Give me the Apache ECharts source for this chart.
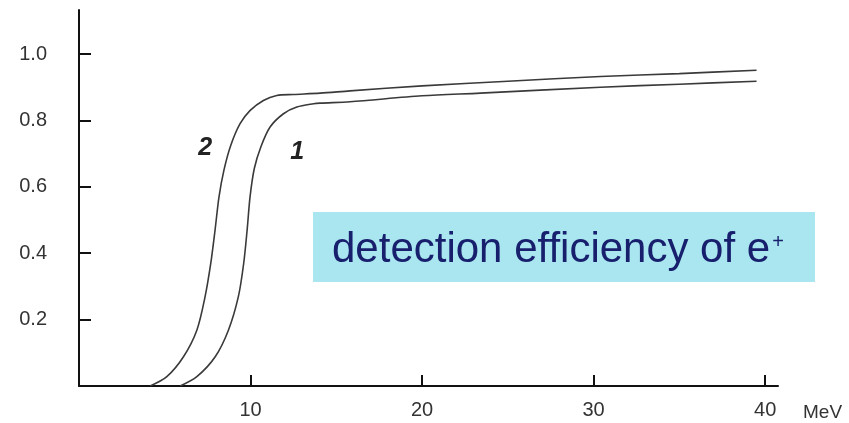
<!DOCTYPE html>
<html>
<head>
<meta charset="utf-8">
<script src="https://cdn.jsdelivr.net/npm/echarts@6/dist/echarts.min.js"></script>
<style>
html,body{margin:0;padding:0;background:#fff;}
#chart{width:849px;height:423px;}
</style>
</head>
<body>
<div id="chart"></div>
<script>
// Energy (MeV) values
const energy2 = [4.15, 5.12, 6.09, 6.87, 7.35, 7.68, 7.93, 8.16, 8.45, 8.85, 9.39, 9.98, 10.75, 11.53, 12.5, 14.06, 15.8, 20, 25, 30.4, 35, 39.5];
const eff2    = [0.0, 0.028, 0.088, 0.168, 0.269, 0.369, 0.469, 0.569, 0.65, 0.725, 0.79, 0.83, 0.86, 0.875, 0.878, 0.882, 0.889, 0.904, 0.918, 0.932, 0.941, 0.951];
const energy1 = [5.9, 6.87, 7.94, 8.71, 9.29, 9.6, 9.8, 9.97, 10.22, 10.6, 11.14, 11.92, 12.7, 13.67, 14.06, 15.8, 20, 23.4, 30.4, 35, 39.5];
const eff1    = [0.0, 0.028, 0.088, 0.168, 0.269, 0.369, 0.469, 0.569, 0.655, 0.72, 0.78, 0.82, 0.84, 0.85, 0.852, 0.856, 0.874, 0.882, 0.9, 0.909, 0.918];
const xTicks = [10, 20, 30, 40];
const yTicks = [0.2, 0.4, 0.6, 0.8, 1.0];
const curveNames = ['1', '2'];
const labelPos1 = [12.72, 0.705];
const labelPos2 = [7.35, 0.717];
const boxText = 'detection efficiency of e';

const fontFam = '"Liberation Sans", Arial, sans-serif';
const lineColor = '#3a3a3a';

function zip(a, b) { return a.map((v, i) => [v, b[i]]); }

const chart = echarts.init(document.getElementById('chart'), null, {renderer: 'canvas'});
const labelStyle = {show: true, fontFamily: fontFam, fontStyle: 'italic', fontWeight: 'bold', fontSize: 25, color: '#222'};
chart.setOption({
  animation: false,
  backgroundColor: '#fff',
  grid: {left: 79, right: 71, top: 10, bottom: 37, containLabel: false},
  xAxis: {
    type: 'value', min: 0, max: 40.75,
    name: 'MeV', nameLocation: 'end', nameGap: 25,
    nameTextStyle: {fontFamily: fontFam, fontSize: 19, color: '#333', verticalAlign: 'top', padding: [17, 0, 0, 0]},
    axisLine: {show: true, onZero: false, lineStyle: {color: '#111', width: 2}},
    axisTick: {show: true, inside: true, length: 11, customValues: xTicks, lineStyle: {color: '#111', width: 2}},
    axisLabel: {customValues: xTicks, fontFamily: fontFam, fontSize: 20, color: '#333', margin: 14},
    splitLine: {show: false}
  },
  yAxis: {
    type: 'value', min: 0, max: 1.1325,
    axisLine: {show: true, onZero: false, lineStyle: {color: '#111', width: 2}},
    axisTick: {show: true, inside: true, length: 12, customValues: yTicks, lineStyle: {color: '#111', width: 2}},
    axisLabel: {customValues: yTicks, fontFamily: fontFam, fontSize: 20, color: '#333', margin: 32,
      formatter: v => v.toFixed(1)},
    splitLine: {show: false}
  },
  graphic: [
    {type: 'rect', z: 1, shape: {x: 313, y: 212, width: 502, height: 70}, style: {fill: '#a9e6ef'}},
    {type: 'text', z: 2, x: 332, y: 223,
      style: {
        text: '{a|' + boxText + '}{s|+}',
        rich: {
          a: {fontFamily: fontFam, fontSize: 42, fill: '#18206e', lineHeight: 48, verticalAlign: 'bottom'},
          s: {fontFamily: fontFam, fontSize: 20, fill: '#18206e', lineHeight: 48, verticalAlign: 'top', padding: [9, 0, 0, 2]}
        }
      }}
  ],
  series: [
    {
      name: curveNames[0], type: 'line', data: zip(energy1, eff1), smooth: 0.3,
      showSymbol: false, symbol: 'none', lineStyle: {color: lineColor, width: 1.6}, z: 3,
      markPoint: {symbol: 'circle', symbolSize: 0, data: [{coord: labelPos1, value: curveNames[0]}],
        label: Object.assign({}, labelStyle, {position: 'inside', formatter: curveNames[0]})}
    },
    {
      name: curveNames[1], type: 'line', data: zip(energy2, eff2), smooth: 0.3,
      showSymbol: false, symbol: 'none', lineStyle: {color: lineColor, width: 1.6}, z: 3,
      markPoint: {symbol: 'circle', symbolSize: 0, data: [{coord: labelPos2, value: curveNames[1]}],
        label: Object.assign({}, labelStyle, {position: 'inside', formatter: curveNames[1]})}
    }
  ]
});
</script>
</body>
</html>
